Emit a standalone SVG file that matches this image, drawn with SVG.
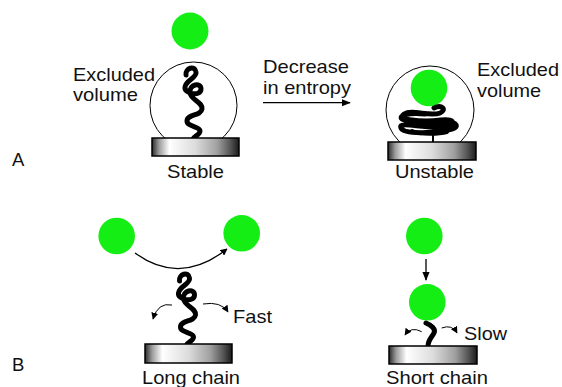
<svg xmlns="http://www.w3.org/2000/svg" width="562" height="387" viewBox="0 0 562 387">
  <defs>
    <style>
      .lbl { font-family: "Liberation Sans", Arial, sans-serif; font-size: 18.5px; fill: #111; }
      .ball { fill: #14ee14; }
      .halo { fill: none; stroke: #000; stroke-width: 1; }
      .plate { fill: url(#steel); stroke: #000; stroke-width: 1.5; }
      .chain { fill: none; stroke: #000; stroke-width: 5; stroke-linecap: round; stroke-linejoin: round; }
      .line { fill: none; stroke: #000; stroke-width: 1.3; }
      .thin { fill: none; stroke: #000; stroke-width: 1; }
    </style>
    <linearGradient id="steel" x1="0" y1="0" x2="1" y2="0">
      <stop offset="0" stop-color="#2a2a2a"/>
      <stop offset="0.08" stop-color="#9a9a9a"/>
      <stop offset="0.2" stop-color="#ffffff"/>
      <stop offset="0.5" stop-color="#dcdcdc"/>
      <stop offset="0.75" stop-color="#a0a0a0"/>
      <stop offset="0.9" stop-color="#555"/>
      <stop offset="1" stop-color="#1a1a1a"/>
    </linearGradient>
    <marker id="tip" viewBox="0 0 10 10" refX="9" refY="5" markerWidth="7" markerHeight="7" markerUnits="userSpaceOnUse" orient="auto">
      <path d="M0,0 L10,5 L0,10 z" fill="#000"/>
    </marker>
    <marker id="tipBig" viewBox="0 0 10 10" refX="9" refY="5" markerWidth="9" markerHeight="9" markerUnits="userSpaceOnUse" orient="auto">
      <path d="M0,1 L10,5 L0,9 z" fill="#000"/>
    </marker>
    <!-- extended polymer chain -->
    <path id="coil" class="chain" d="M186,75 C185,68 195,65 196,72 C197,78 186,80 185,87 C184,94 201,97 201,89 C201,82 189,84 190,93 C191,100 203,102 202,109 C201,116 187,114 187,121 C187,127 200,126 200,131 C200,135 194,136 193,139"/>
  </defs>

  <rect width="562" height="387" fill="#fff"/>

  <!-- panel labels -->
  <text class="lbl" x="12" y="166">A</text>
  <text class="lbl" x="12" y="371">B</text>

  <!-- A: stable extended chain -->
  <g id="stable">
    <circle class="ball" cx="190" cy="31" r="18.5"/>
    <circle class="halo" cx="193.5" cy="105.5" r="43.5"/>
    <use href="#coil"/>
    <rect class="plate" x="152" y="138" width="87" height="18"/>
    <text class="lbl" x="73" y="81" textLength="82" lengthAdjust="spacingAndGlyphs">Excluded</text>
    <text class="lbl" x="73" y="101" textLength="65" lengthAdjust="spacingAndGlyphs">volume</text>
    <text class="lbl" x="167" y="178" textLength="57" lengthAdjust="spacingAndGlyphs">Stable</text>
  </g>

  <!-- A: transition label -->
  <g id="entropy-label">
    <text class="lbl" x="263" y="73" textLength="86" lengthAdjust="spacingAndGlyphs">Decrease</text>
    <text class="lbl" x="263" y="94" textLength="88" lengthAdjust="spacingAndGlyphs">in entropy</text>
  </g>

  <!-- A: compressed chain -->
  <g id="unstable">
    <circle class="halo" cx="430" cy="110" r="44"/>
    <circle class="ball" cx="429" cy="88" r="18.3"/>
    <path class="chain" d="M434,108 C442,104 447,110 440,113 C430,117 412,109 404,114 C396,119 420,123 441,120 C457,118 456,126 440,127 C420,128 398,121 401,128 C404,135 438,133 452,129 C460,127 456,121 446,123 C430,126 412,124 402,119 C398,116 408,112 425,114"/>
    <path class="chain" style="stroke-width:4" d="M412,131 C420,135 440,134 447,132"/>
    <line x1="433" y1="130" x2="433" y2="142" stroke="#000" stroke-width="2"/>
    <rect class="plate" x="388" y="142" width="88" height="18"/>
    <text class="lbl" x="477" y="76" textLength="82" lengthAdjust="spacingAndGlyphs">Excluded</text>
    <text class="lbl" x="477" y="97" textLength="64" lengthAdjust="spacingAndGlyphs">volume</text>
    <text class="lbl" x="395" y="178" textLength="79" lengthAdjust="spacingAndGlyphs">Unstable</text>
  </g>

  <!-- B: long chain -->
  <g id="long-chain">
    <circle class="ball" cx="116.7" cy="236" r="18.3"/>
    <circle class="ball" cx="241.7" cy="233.3" r="18.3"/>
    <use href="#coil" transform="translate(-6.5,206)"/>
    <rect class="plate" x="145" y="344" width="87" height="19"/>
    <text class="lbl" x="233" y="323" textLength="39" lengthAdjust="spacingAndGlyphs">Fast</text>
    <text class="lbl" x="142" y="384" textLength="98" lengthAdjust="spacingAndGlyphs">Long chain</text>
  </g>

  <!-- B: short chain -->
  <g id="short-chain">
    <circle class="ball" cx="424.3" cy="236" r="18.3"/>
    <circle class="ball" cx="427.3" cy="302.3" r="18.3"/>
    <path class="chain" d="M426,323 C431,325 436,329 434,333 C432,337 428,340 428,346"/>
    <rect class="plate" x="389" y="346" width="88" height="18"/>
    <text class="lbl" x="464" y="340" textLength="43" lengthAdjust="spacingAndGlyphs">Slow</text>
    <text class="lbl" x="386" y="384" textLength="102" lengthAdjust="spacingAndGlyphs">Short chain</text>
  </g>

  <!-- connectors -->
  <g id="connectors">
    <line class="line" x1="263" y1="102.7" x2="350" y2="102.7" marker-end="url(#tipBig)"/>
    <path class="line" d="M135,253 Q180,286 227,249" marker-end="url(#tip)"/>
    <path class="thin" d="M172,305 Q158,302 153,319" marker-end="url(#tip)"/>
    <path class="thin" d="M203,304 Q221,301 228,312" marker-end="url(#tip)"/>
    <line class="line" x1="426" y1="259" x2="426" y2="280" marker-end="url(#tipBig)"/>
    <path class="thin" d="M421.7,331.7 Q411,326 405,335" marker-end="url(#tip)"/>
    <path class="thin" d="M441.7,328 Q452,324 457,333" marker-end="url(#tip)"/>
  </g>
</svg>
